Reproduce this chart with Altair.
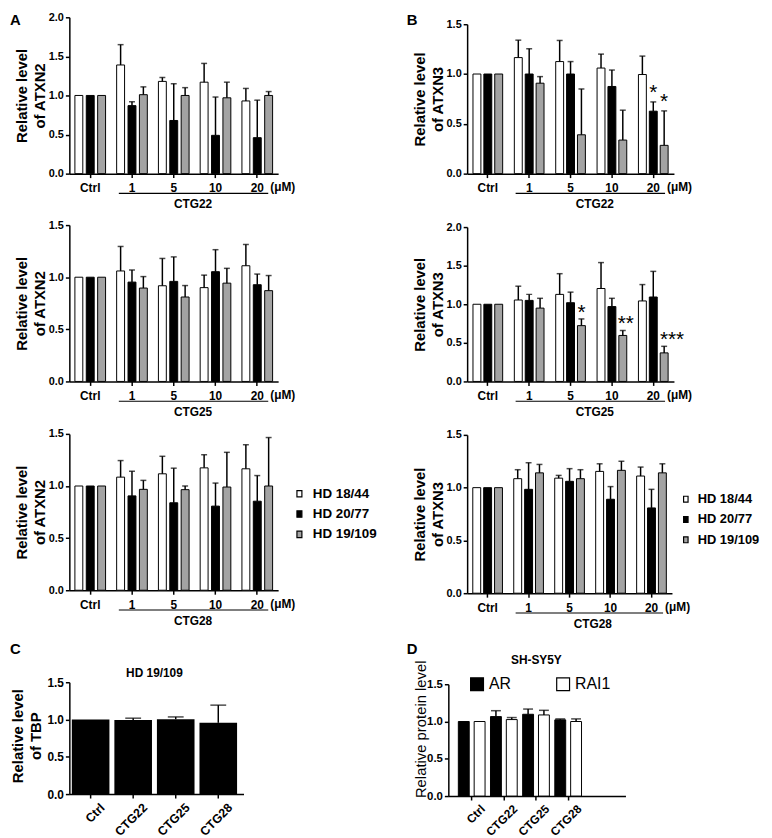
import altair as alt
import pandas as pd

FONT = "Liberation Sans"

# ---------------- data ----------------
doses = ["Ctrl", "1", "5", "10", "20"]
lines = ["HD 18/44", "HD 20/77", "HD 19/109"]
line_fill = ["#ffffff", "#000000", "#a3a3a3"]

# A, CTG22 (ATXN2)
a1_mean = {"HD 18/44": [1.00, 1.39, 1.18, 1.17, 0.93],
           "HD 20/77": [1.00, 0.87, 0.68, 0.49, 0.46],
           "HD 19/109": [1.00, 1.01, 1.00, 0.97, 1.00]}
a1_top = {"HD 18/44": [None, 1.65, 1.23, 1.41, 1.09],
          "HD 20/77": [None, 0.92, 1.15, 0.98, 0.94],
          "HD 19/109": [None, 1.11, 1.10, 1.17, 1.05]}
# B, CTG22 (ATXN3)
b1_mean = {"HD 18/44": [1.00, 1.165, 1.125, 1.06, 0.995],
           "HD 20/77": [1.00, 1.00, 1.00, 0.875, 0.627],
           "HD 19/109": [1.00, 0.908, 0.39, 0.337, 0.284]}
b1_top = {"HD 18/44": [None, 1.34, 1.337, 1.20, 1.18],
          "HD 20/77": [None, 1.254, 1.125, 1.04, 0.72],
          "HD 19/109": [None, 0.974, 0.85, 0.637, 0.63]}
b1_stars = [("20", "HD 20/77", "*", 0), ("20", "HD 19/109", "*", 0)]
# A, CTG25
a2_mean = {"HD 18/44": [1.00, 1.06, 0.918, 0.90, 1.11],
           "HD 20/77": [1.00, 0.953, 0.96, 1.053, 0.928],
           "HD 19/109": [1.00, 0.896, 0.81, 0.943, 0.871]}
a2_top = {"HD 18/44": [None, 1.295, 1.18, 1.02, 1.314],
          "HD 20/77": [None, 1.07, 1.195, 1.264, 1.03],
          "HD 19/109": [None, 1.006, 0.92, 1.085, 1.016]}
# B, CTG25
b2_mean = {"HD 18/44": [1.00, 1.055, 1.128, 1.204, 1.043],
           "HD 20/77": [1.00, 1.05, 1.02, 0.97, 1.094],
           "HD 19/109": [1.00, 0.95, 0.723, 0.596, 0.37]}
b2_top = {"HD 18/44": [None, 1.234, 1.396, 1.54, 1.255],
          "HD 20/77": [None, 1.128, 1.157, 1.077, 1.426],
          "HD 19/109": [None, 1.077, 0.81, 0.66, 0.455]}
b2_stars = [("5", "HD 19/109", "*", 0), ("10", "HD 19/109", "**", 3),
            ("20", "HD 19/109", "***", 8)]
# A, CTG28
a3_mean = {"HD 18/44": [1.00, 1.085, 1.117, 1.174, 1.165],
           "HD 20/77": [1.00, 0.905, 0.839, 0.807, 0.854],
           "HD 19/109": [1.00, 0.968, 0.965, 0.99, 1.00]}
a3_top = {"HD 18/44": [None, 1.244, 1.285, 1.30, 1.396],
          "HD 20/77": [None, 1.142, 1.171, 1.028, 1.10],
          "HD 19/109": [None, 1.054, 1.00, 1.323, 1.465]}
# B, CTG28
b3_mean = {"HD 18/44": [1.00, 1.085, 1.09, 1.154, 1.11],
           "HD 20/77": [1.00, 0.984, 1.06, 0.89, 0.808],
           "HD 19/109": [1.00, 1.14, 1.085, 1.164, 1.14]}
b3_top = {"HD 18/44": [None, 1.17, 1.116, 1.226, 1.195],
          "HD 20/77": [None, 1.236, 1.18, 1.01, 0.984],
          "HD 19/109": [None, 1.22, 1.17, 1.25, 1.226]}

# C (TBP in HD 19/109)
treat = ["Ctrl", "CTG22", "CTG25", "CTG28"]
c_mean = [1.00, 0.995, 1.004, 0.956]
c_top = [None, 1.018, 1.035, 1.193]

# D (SH-SY5Y)
markers = ["AR", "RAI1"]
marker_fill = ["#000000", "#ffffff"]
d_mean = {"AR": [1.00, 1.066, 1.097, 1.022], "RAI1": [1.00, 1.026, 1.088, 1.00]}
d_top = {"AR": [None, 1.145, 1.167, 1.035], "RAI1": [None, 1.053, 1.15, 1.035]}


# ---------------- helpers ----------------
def tidy(means, tops, cats, keys):
    rows = []
    for k in keys:
        for c, m, t in zip(cats, means[k], tops[k]):
            rows.append({"cat": c, "ser": k, "mean": m, "top": t})
    return pd.DataFrame(rows)


ONE = pd.DataFrame({"k": [0]})


def txt(s, x, y, size=12, weight="bold", align="left", baseline="alphabetic"):
    return alt.Chart(pd.DataFrame({"t": [s]})).mark_text(
        font=FONT, fontSize=size, fontWeight=weight, align=align,
        baseline=baseline, color="black").encode(
        x=alt.value(x), y=alt.value(y), text="t:N")


def hline(x1, x2, y):
    return alt.Chart(ONE).mark_rule(color="black", strokeWidth=1.2).encode(
        x=alt.value(x1), x2=alt.value(x2), y=alt.value(y))


def yaxis(title, ymax, tx, ty, lsize=11, tweight="bold", tsize=15, offset=0):
    vals = [v / 2 for v in range(int(ymax * 2) + 1)]
    return alt.Axis(title=title, values=vals, format=".1f", labelFontSize=lsize,
                    labelFontWeight="bold", labelPadding=2, tickSize=4,
                    titleFontSize=tsize, titleFontWeight=tweight, titleLineHeight=18,
                    titleX=tx, titleY=ty, titleAlign="center", titleBaseline="bottom",
                    titleAngle=-90, offset=offset)


def series_layers(df, edf, keys, offs, x, Y, fill, bar_w, cap_w):
    out = []
    for k, o in zip(keys, offs):
        d = df[df["ser"] == k]
        e = edf[edf["ser"] == k]
        out.append(alt.Chart(d).mark_bar(width=bar_w, xOffset=o, stroke="black",
                                         strokeWidth=1).encode(
            x=x, y=Y("mean:Q"), fill=fill))
        out.append(alt.Chart(e).mark_rule(xOffset=o, color="black",
                                          strokeWidth=1.5).encode(
            x=x, y=Y("mean:Q"), y2="top:Q"))
        out.append(alt.Chart(e).mark_tick(orient="horizontal", xOffset=o,
                                          color="black", size=cap_w,
                                          thickness=1.5).encode(
            x=x, y=Y("top:Q")))
    return out


def dose_panel(means, tops, ymax, gene, ctg, W, Z, ytop, letter=None, stars=None,
               star_dy=0, legend=None, title_x=-40, ux=(50, 201), ctg_x=125,
               um_x=203, off=11.5):
    df = tidy(means, tops, doses, lines)
    edf = df.dropna(subset=["top"])
    offs = [-off, 0, off]
    x = alt.X("cat:N", sort=doses,
              scale=alt.Scale(domain=doses, paddingInner=0, paddingOuter=0),
              axis=alt.Axis(title=None, labelAngle=0, labelFontSize=12,
                            labelFontWeight="bold", labelPadding=5, tickSize=4))
    ys = alt.Scale(domain=[0, ymax], range=[Z, ytop], nice=False)
    ya = yaxis(["Relative level", "of " + gene], ymax, title_x, (Z + ytop) / 2)

    def Y(f):
        return alt.Y(f, scale=ys, axis=ya)

    fill = alt.Fill("ser:N", sort=lines,
                    scale=alt.Scale(domain=lines, range=line_fill), legend=legend)
    layers = series_layers(df, edf, lines, offs, x, Y, fill, 8, 6)
    if stars:
        for c, s, lab, sdx in stars:
            sd = edf[(edf["cat"] == c) & (edf["ser"] == s)].assign(lab=lab)
            layers.append(alt.Chart(sd).mark_text(
                font=FONT, fontSize=21, baseline="alphabetic", dy=star_dy, dx=sdx,
                xOffset=offs[lines.index(s)], color="black").encode(
                x=x, y=Y("top:Q"), text="lab:N"))
    layers += [hline(ux[0], ux[1], Z + 20),
               txt(ctg, ctg_x, Z + 26, align="center", baseline="top"),
               txt("(μM)", um_x, Z + 9, baseline="top")]
    if letter:
        layers.append(txt(letter[0], letter[1], letter[2], size=15))
    return alt.layer(*layers).properties(width=W, height=Z)


def hd_legend(lx, ly, size, sym_w, sym_h, rowpad, loff=6):
    r = sym_w / sym_h / 2
    return alt.Legend(orient="none", legendX=lx, legendY=ly, title=None, padding=0,
                      symbolType=f"M-{r:.3f},-0.5H{r:.3f}V0.5H-{r:.3f}Z",
                      symbolSize=sym_h * sym_h, symbolStrokeColor="black",
                      symbolStrokeWidth=1.2, labelFont=FONT, labelFontSize=size,
                      labelFontWeight="bold", labelColor="black", labelOffset=loff,
                      rowPadding=rowpad)


A1 = dose_panel(a1_mean, a1_top, 2.0, "ATXN2", "CTG22", 211, 158, 0,
                letter=("A", -60, 8))
B1 = dose_panel(b1_mean, b1_top, 1.5, "ATXN3", "CTG22", 209, 158, 7,
                letter=("B", -61, 8), stars=b1_stars, star_dy=-3,
                ux=(49, 200), ctg_x=129, um_x=202, off=11)
A2 = dose_panel(a2_mean, a2_top, 1.5, "ATXN2", "CTG25", 211, 158, 0)
B2 = dose_panel(b2_mean, b2_top, 2.0, "ATXN3", "CTG25", 209, 158, 2,
                stars=b2_stars, star_dy=0, ux=(49, 200), ctg_x=129, um_x=202,
                off=11)
A3 = dose_panel(a3_mean, a3_top, 1.5, "ATXN2", "CTG28", 211, 159, 1,
                legend=hd_legend(225, 54, 13.5, 10, 13, 6.5))
B3 = dose_panel(b3_mean, b3_top, 1.5, "ATXN3", "CTG28", 207, 162, 2,
                ux=(49, 198), ctg_x=127, um_x=200, off=11,
                legend=hd_legend(214, 60, 13, 9, 12, 6.5, loff=5))

# ---- C ----
CZ, CT = 151, 38
cdf = pd.DataFrame({"cat": treat, "mean": c_mean, "top": c_top})
cedf = cdf.dropna(subset=["top"])
cx = alt.X("cat:N", sort=treat,
           scale=alt.Scale(domain=treat, range=[0, 176], paddingInner=0,
                           paddingOuter=0.0465, align=0),
           axis=alt.Axis(title=None, labelAngle=-45, labelFontSize=12.5,
                         labelFontWeight="bold", labelPadding=3, tickSize=4,
                         labelOffset=8))
cys = alt.Scale(domain=[0, 1.5], range=[CZ, CT], nice=False)
cya = yaxis(["Relative level", "of TBP"], 1.5, -44, 92, lsize=12)
C = alt.layer(
    alt.Chart(cdf).mark_bar(color="black", width=38).encode(
        x=cx, y=alt.Y("mean:Q", scale=cys, axis=cya)),
    alt.Chart(cedf).mark_rule(color="black", strokeWidth=1.5).encode(
        x=cx, y=alt.Y("mean:Q", scale=cys, axis=cya), y2="top:Q"),
    alt.Chart(cedf).mark_tick(orient="horizontal", color="black", size=16,
                              thickness=1.5).encode(
        x=cx, y=alt.Y("top:Q", scale=cys, axis=cya)),
    txt("C", -60, 9, size=15),
    txt("HD 19/109", 86, 29, align="center", baseline="middle"),
).properties(width=176, height=CZ)

# ---- D ----
DZ, DT = 153, 40
ddf = tidy(d_mean, d_top, treat, markers)
dedf = ddf.dropna(subset=["top"])
dx = alt.X("cat:N", sort=treat,
           scale=alt.Scale(domain=treat, range=[-19, 160], paddingInner=0,
                           paddingOuter=0.754, align=0.15),
           axis=alt.Axis(title=None, labelAngle=-45, labelFontSize=12,
                         labelFontWeight="bold", labelPadding=3, tickSize=4,
                         labelOffset=8))
dys = alt.Scale(domain=[0, 1.5], range=[DZ, DT], nice=False)
dya = yaxis("Relative protein level", 1.5, -20, 85, lsize=11.5, tweight="normal",
            tsize=15, offset=19)


def DY(f):
    return alt.Y(f, scale=dys, axis=dya)


dfill = alt.Fill("ser:N", sort=markers,
                 scale=alt.Scale(domain=markers, range=marker_fill),
                 legend=alt.Legend(orient="none", legendX=2, legendY=32,
                                   title=None, padding=0, direction="horizontal",
                                   columns=2, columnPadding=43,
                                   symbolType="square", symbolSize=169,
                                   symbolStrokeColor="black",
                                   symbolStrokeWidth=1.2, labelFont=FONT,
                                   labelFontSize=16, labelColor="black",
                                   labelOffset=4))
D = alt.layer(
    *series_layers(ddf, dedf, markers, [-8, 8], dx, DY, dfill, 11, 10),
    txt("D", -61, 9, size=15),
    txt("SH-SY5Y", 70, 16, align="center", baseline="middle"),
).properties(width=160, height=DZ)

chart = alt.concat(A1, B1, A2, B2, A3, B3, C, D, columns=2,
                   spacing={"row": 52, "column": 191}, bounds="flush",
                   align="each").resolve_scale(fill="independent").properties(
    autosize=alt.AutoSizeParams(type="none"),
    padding={"left": 62, "top": 5, "right": 702, "bottom": 825},
).configure_view(stroke=None).configure_axis(
    domainColor="black", domainWidth=1.5, tickColor="black", tickWidth=1.5,
    labelColor="black", titleColor="black", grid=False, labelFont=FONT,
    titleFont=FONT)

chart.save("out.html", embed_options={"renderer": "svg", "actions": False})
